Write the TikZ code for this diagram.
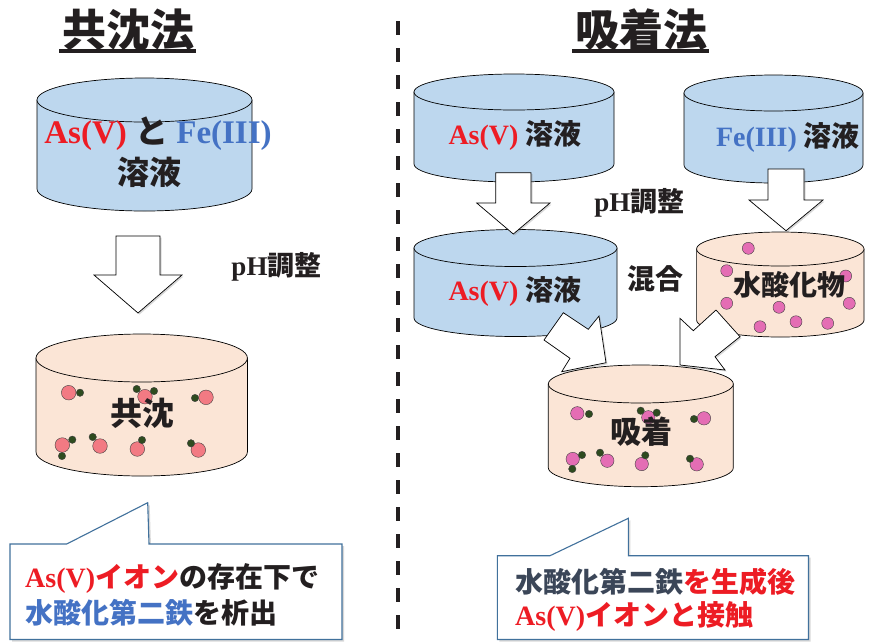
\documentclass[tikz,border=0pt]{standalone}
\usepackage{fontspec}
\setmainfont{Liberation Serif}
\newfontfamily\jpf{Noto Sans CJK JP}
\usetikzlibrary{shadows}
\definecolor{redt}{HTML}{ED1C24}
\definecolor{bluet}{HTML}{4472C4}
\definecolor{darkt}{HTML}{231F20}
\definecolor{navyt}{HTML}{3B4658}
\definecolor{cylblue}{HTML}{BDD7EE}
\definecolor{peach}{HTML}{FBE5D6}
\definecolor{salmon}{HTML}{F27A83}
\definecolor{pinkd}{HTML}{E46DB4}
\definecolor{greend}{HTML}{2E4B1F}
\definecolor{callb}{HTML}{41719C}
\newcommand\J[1]{{\jpf\bfseries #1}}
\newcommand\R[1]{{\bfseries #1}}
\newcommand\fs[1]{\fontsize{#1}{#1}\selectfont}
% cylinder: cx, top centre y, bottom centre y, rx, ry, fill
\newcommand\mycyl[6]{%
  \path[cylline,fill=#6] (#1-#4,#2) -- (#1-#4,#3)
     arc[start angle=180,end angle=360,x radius=#4pt,y radius=#5pt]
     -- (#1+#4,#2) -- cycle;
  \path[cylline,fill=#6] (#1,#2) ellipse[x radius=#4pt,y radius=#5pt];
}
\newcommand\bigdot[4]{\path[dotline,fill=#3] (#1,#2) circle[radius=#4pt];}
\newcommand\gdot[2]{\path[dotline,fill=greend] (#1,#2) circle[radius=3.7pt];}
\tikzset{
  cylline/.style={draw=black,line width=0.7pt},
  dotline/.style={draw=black!75,line width=0.4pt},
  blockarrow/.style={draw=black,line width=0.7pt,fill=white,
     drop shadow={shadow xshift=1.5pt,shadow yshift=-1.5pt,opacity=0.3}},
  callout/.style={draw=callb,line width=1.1pt,fill=white,
     drop shadow={shadow xshift=2pt,shadow yshift=-2pt,opacity=0.3}},
  txt/.style={inner sep=0pt,text=darkt},
}
\begin{document}
\begin{tikzpicture}[x=1pt,y=-1pt]
\useasboundingbox (0,0) rectangle (875,641);
\fill[white] (0,0) rectangle (875,641);

% ---- titles
\node[txt] (title1) at (128,30) {\fs{44}\J{共沈法}};
\draw[line width=3.5pt,darkt] (59,51) -- (196,51);
\node[txt] (title2) at (641,30) {\fs{44}\J{吸着法}};
\draw[line width=3.5pt,darkt] (572,51) -- (709,51);

% ---- divider
\draw[line width=3.5pt,darkt,dash pattern=on 14pt off 13pt] (398,21) -- (398,641);

% ================= left: co-precipitation
\mycyl{144.5}{100}{189}{107.5}{22}{cylblue}
\node[txt] (c1a) at (158,134) {\fs{33}\textcolor{redt}{\R{As(V)}} \J{と} \textcolor{bluet}{\R{Fe(III)}}};
\node[txt] (c1b) at (149,172) {\fs{32}\J{溶液}};

\path[blockarrow] (116,236) -- (116,275) -- (94,275) -- (138,313) -- (182,275) -- (160,275) -- (160,236) -- cycle;
\node[txt] (ph1) at (276.5,267) {\fs{27}\R{pH}\J{調整}};

\mycyl{141.7}{358}{452}{105.7}{24}{peach}
\foreach \x/\y in {68.7/392.7,145/396.7,206/397.3,62.3/445,100/446,137.3/449,198.3/450}
  {\bigdot{\x}{\y}{salmon}{7.3}}
\foreach \x/\y in {80/392.7,136.7/389,154/391,195/398,72.3/439.7,62/456,92.7/437,142/440,191/443.3}
  {\gdot{\x}{\y}}
\node[txt] (c2) at (142,413) {\fs{32}\J{共沈}};

\path[callout] (10,544) -- (66.7,544) -- (147.7,502.7) -- (149,544) -- (342,544) -- (342,639.5) -- (10,639.5) -- cycle;
\node[txt,anchor=west] (l1) at (25,578) {\fs{28}\textcolor{redt}{\R{As(V)}\J{イオン}}\J{の存在下で}};
\node[txt,anchor=west] (l2) at (25,613) {\fs{28}\textcolor{bluet}{\J{水酸化第二鉄}}\J{を析出}};

% ================= right: adsorption
\mycyl{514}{92}{164}{100}{18}{cylblue}
\node[txt] (c3) at (515,135) {\fs{28}\textcolor{redt}{\R{As(V)}} \J{溶液}};
\mycyl{773.5}{93}{165}{89.5}{18}{cylblue}
\node[txt] (c4) at (788,137) {\fs{28}\textcolor{bluet}{\R{Fe(III)}} \J{溶液}};

\mycyl{515.5}{248}{318}{101.5}{18.5}{cylblue}
\node[txt] (c5) at (515,291.5) {\fs{28}\textcolor{redt}{\R{As(V)}} \J{溶液}};

\mycyl{780.3}{249}{320}{83.7}{17}{peach}
\foreach \x/\y in {748.3/248.3,726.7/270.7,845.7/276,726.7/303.3,779/307.3,849.3/303.3,760/326.7,796/321.7,827.7/323.3}
  {\bigdot{\x}{\y}{pinkd}{6}}
\node[txt] (c6) at (789,285) {\fs{28}\J{水酸化物}};

\path[blockarrow] (495.7,172.7) -- (495.7,203) -- (476.7,203) -- (513.3,234) -- (550,203) -- (531,203) -- (531,172.7) -- cycle;
\path[blockarrow] (768,169) -- (768,200) -- (749,200) -- (786,230.7) -- (823,200) -- (804,200) -- (804,169) -- cycle;
\node[txt] (ph2) at (639.3,203) {\fs{27}\R{pH}\J{調整}};
\node[txt] (mix) at (655,279) {\fs{28}\J{混合}};

\path[blockarrow] (544,340) -- (563.3,312.7) -- (588.3,329.3) -- (599,316) -- (606,362.7) -- (561.7,371.7) -- (570,358.3) -- cycle;
\path[blockarrow] (716,310) -- (740,336.7) -- (715,356.7) -- (725,370) -- (680,365) -- (680,318.3) -- (693.3,330.7) -- cycle;

\mycyl{640.8}{384}{467.7}{92.5}{19}{peach}
\foreach \x/\y in {577.3/413.3,648.3/417.3,704/418.3,572.7/459,607.3/460.7,641.7/464,696.7/464.3}
  {\bigdot{\x}{\y}{pinkd}{6.7}}
\foreach \x/\y in {589/414,640.7/410.7,656.7/412.7,694/419,582/455,572.3/469,600/452.7,645.3/455.3,690/458.7}
  {\gdot{\x}{\y}}
\node[txt] (c7) at (641,431.5) {\fs{31}\J{吸着}};

\path[callout] (497.3,555.7) -- (550,555.7) -- (628.3,518.3) -- (628.3,555.7) -- (808.5,555.7) -- (808.5,639.5) -- (497.3,639.5) -- cycle;
\node[txt,anchor=west] (r1) at (515,581.7) {\fs{28}\textcolor{navyt}{\J{水酸化第二鉄}}\textcolor{redt}{\J{を生成後}}};
\node[txt,anchor=west] (r2) at (515,616.7) {\fs{28}\textcolor{redt}{\R{As(V)}\J{イオンと接触}}};
\end{tikzpicture}
\end{document}
